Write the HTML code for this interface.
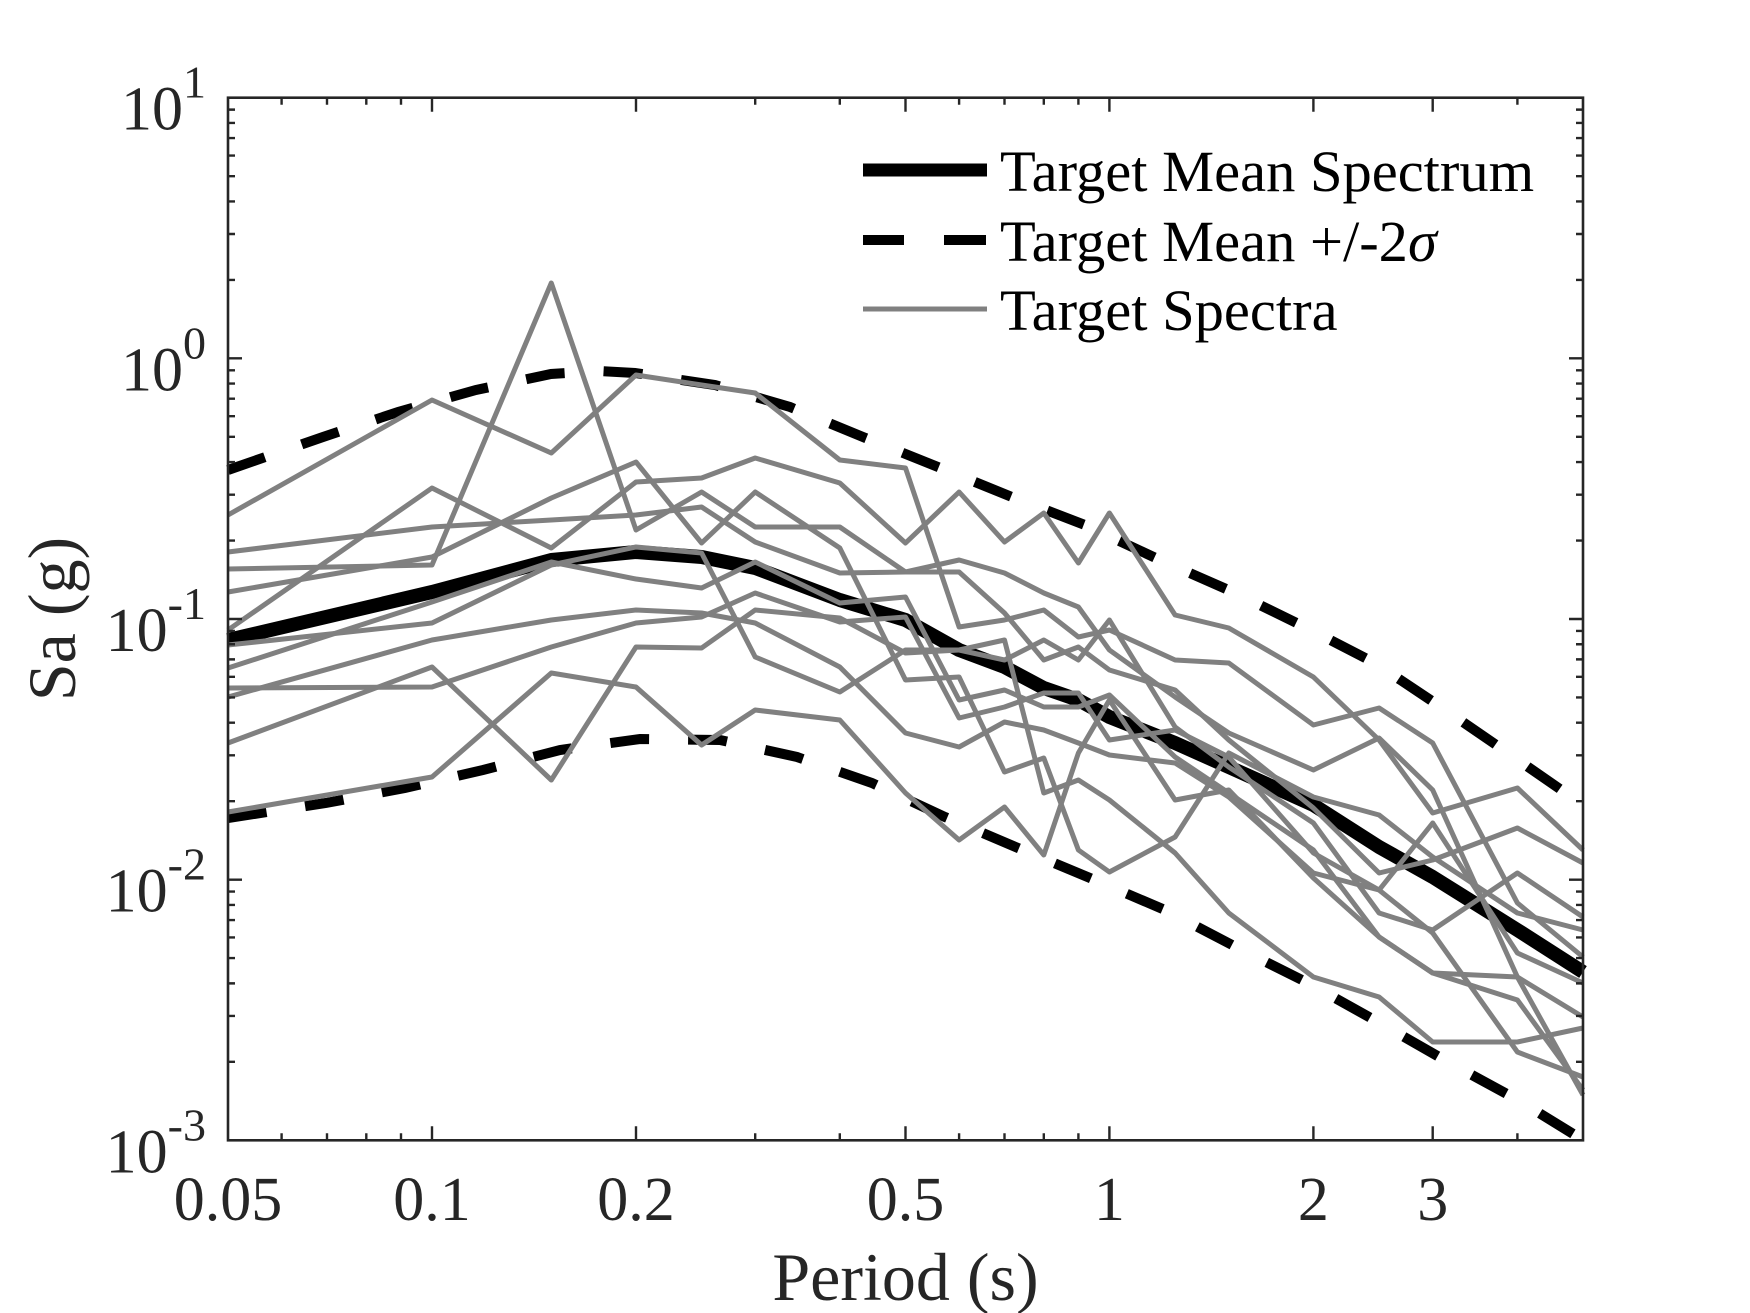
<!DOCTYPE html>
<html><head><meta charset="utf-8"><style>
html,body{margin:0;padding:0;background:#fff;}
svg{display:block;}
text{font-family:"Liberation Serif","Times New Roman",serif;fill:#262626;}
</style></head><body>
<svg width="1750" height="1313" viewBox="0 0 1750 1313" xmlns="http://www.w3.org/2000/svg">
<rect x="0" y="0" width="1750" height="1313" fill="#fff"/>

<!-- mean -->
<polyline fill="none" stroke="#000" stroke-width="14" stroke-linejoin="round" points="228,640 432,592 551.3,560 636,552 701.6,557 755.2,568 839.8,600 905.5,620 959.1,650 1004.5,667 1043.8,688 1078.4,700 1109.4,717 1175.1,743 1228.8,767 1313.4,805 1379.1,847 1432.7,877 1517.4,930 1583,972"/>

<!-- +/- 2 sigma -->
<g fill="none" stroke="#000" stroke-width="10" stroke-dasharray="39 39">
<polyline points="228,470 323,437 398,412 476,390 551,374 600,371 635,373 715,385 790,407 863,437 938,467 1012,497 1085,525 1160,560 1233,592 1305,627 1375,663 1441,707 1508,753 1583,805"/>
<polyline points="228,818 326,803 405,788 483,770 560,750 640,739 720,740 797,757 872,783 945,817 1018,848 1090,878 1165,910 1236,947 1308,983 1378,1022 1448,1062 1518,1100 1583,1140"/>
</g>

<!-- spectra -->
<g fill="none" stroke="#808080" stroke-width="5" stroke-linejoin="round">
<polyline points="228,515 432,400 551.3,453 636,375 701.6,385 755.2,393 839.8,460 905.5,468 959.1,627 1004.5,620 1043.8,610 1078.4,637 1109.4,630 1175.1,660 1228.8,663 1313.4,725 1379.1,708 1432.7,743 1517.4,903 1583,957"/>
<polyline points="228,630 432,488 551.3,548 636,482 701.6,478 755.2,458 839.8,483 905.5,543 959.1,492 1004.5,542 1043.8,513 1078.4,563 1109.4,513 1175.1,615 1228.8,628 1313.4,677 1379.1,740 1432.7,813 1517.4,788 1583,850"/>
<polyline points="228,569 432,565 551.3,283 636,530 701.6,492 755.2,527 839.8,527 905.5,572 959.1,560 1004.5,573 1043.8,593 1078.4,607 1109.4,650 1175.1,697 1228.8,733 1313.4,770 1379.1,738 1432.7,790 1517.4,977 1583,1095"/>
<polyline points="228,592 432,557 551.3,498 636,462 701.6,543 755.2,492 839.8,548 905.5,680 959.1,677 1004.5,772 1043.8,758 1078.4,850 1109.4,872 1175.1,837 1228.8,753 1313.4,797 1379.1,815 1432.7,857 1517.4,913 1583,930"/>
<polyline points="228,552 432,527 551.3,520 636,515 701.6,507 755.2,542 839.8,573 905.5,572 959.1,572 1004.5,613 1043.8,660 1078.4,647 1109.4,670 1175.1,690 1228.8,740 1313.4,808 1379.1,873 1432.7,860 1517.4,828 1583,863"/>
<polyline points="228,645 432,623 551.3,565 636,547 701.6,553 755.2,657 839.8,692 905.5,650 959.1,650 1004.5,660 1043.8,640 1078.4,660 1109.4,620 1175.1,727 1228.8,767 1313.4,823 1379.1,913 1432.7,930 1517.4,873 1583,917"/>
<polyline points="228,668 432,602 551.3,562 636,579 701.6,588 755.2,562 839.8,603 905.5,597 959.1,700 1004.5,690 1043.8,707 1078.4,707 1109.4,695 1175.1,757 1228.8,793 1313.4,850 1379.1,937 1432.7,973 1517.4,977 1583,1017"/>
<polyline points="228,688 432,687 551.3,647 636,623 701.6,617 755.2,593 839.8,622 905.5,617 959.1,718 1004.5,707 1043.8,693 1078.4,693 1109.4,740 1175.1,730 1228.8,757 1313.4,853 1379.1,890 1432.7,823 1517.4,953 1583,983"/>
<polyline points="228,697 432,640 551.3,620 636,610 701.6,613 755.2,623 839.8,667 905.5,733 959.1,747 1004.5,722 1043.8,730 1078.4,743 1109.4,755 1175.1,763 1228.8,797 1313.4,873 1379.1,890 1432.7,933 1517.4,1052 1583,1077"/>
<polyline points="228,743 432,667 551.3,780 636,647 701.6,648 755.2,610 839.8,618 905.5,653 959.1,650 1004.5,640 1043.8,793 1078.4,780 1109.4,800 1175.1,853 1228.8,913 1313.4,977 1379.1,997 1432.7,1042 1517.4,1042 1583,1028"/>
<polyline points="228,812 432,777 551.3,673 636,687 701.6,745 755.2,710 839.8,720 905.5,793 959.1,840 1004.5,807 1043.8,855 1078.4,753 1109.4,700 1175.1,800 1228.8,790 1313.4,878 1379.1,937 1432.7,973 1517.4,1000 1583,1090"/>
</g>

<!-- axes box -->
<rect x="228" y="97.7" width="1355" height="1042.6" fill="none" stroke="#262626" stroke-width="2.6"/>

<!-- ticks -->
<g stroke="#262626" stroke-width="2.4" fill="none">
<path d="M432,1140.3v-14M636,1140.3v-14M905.5,1140.3v-14M1109.4,1140.3v-14M1313.4,1140.3v-14M1432.7,1140.3v-14
M432,97.7v14M636,97.7v14M905.5,97.7v14M1109.4,97.7v14M1313.4,97.7v14M1432.7,97.7v14"/>
<path d="M281.6,1140.3v-7M327,1140.3v-7M366.3,1140.3v-7M401,1140.3v-7M755.2,1140.3v-7M839.8,1140.3v-7M959.1,1140.3v-7M1004.5,1140.3v-7M1043.8,1140.3v-7M1078.4,1140.3v-7M1517.4,1140.3v-7
M281.6,97.7v7M327,97.7v7M366.3,97.7v7M401,97.7v7M755.2,97.7v7M839.8,97.7v7M959.1,97.7v7M1004.5,97.7v7M1043.8,97.7v7M1078.4,97.7v7M1517.4,97.7v7"/>
<path d="M228,358.35h14M228,619h14M228,879.65h14M1583,358.35h-14M1583,619h-14M1583,879.65h-14"/>
<path d="M228,1061.84h7M228,1015.94h7M228,983.37h7M228,958.11h7M228,937.47h7M228,920.02h7M228,904.91h7M228,891.57h7
M228,801.19h7M228,755.29h7M228,722.72h7M228,697.46h7M228,676.82h7M228,659.37h7M228,644.26h7M228,630.92h7
M228,540.54h7M228,494.64h7M228,462.07h7M228,436.81h7M228,416.17h7M228,398.72h7M228,383.61h7M228,370.27h7
M228,279.89h7M228,233.99h7M228,201.42h7M228,176.16h7M228,155.52h7M228,138.07h7M228,122.96h7M228,109.62h7"/>
<path d="M1583,1061.84h-7M1583,1015.94h-7M1583,983.37h-7M1583,958.11h-7M1583,937.47h-7M1583,920.02h-7M1583,904.91h-7M1583,891.57h-7
M1583,801.19h-7M1583,755.29h-7M1583,722.72h-7M1583,697.46h-7M1583,676.82h-7M1583,659.37h-7M1583,644.26h-7M1583,630.92h-7
M1583,540.54h-7M1583,494.64h-7M1583,462.07h-7M1583,436.81h-7M1583,416.17h-7M1583,398.72h-7M1583,383.61h-7M1583,370.27h-7
M1583,279.89h-7M1583,233.99h-7M1583,201.42h-7M1583,176.16h-7M1583,155.52h-7M1583,138.07h-7M1583,122.96h-7M1583,109.62h-7"/>
</g>

<!-- x tick labels -->
<g font-size="62" text-anchor="middle">
<text x="228" y="1220">0.05</text>
<text x="432" y="1220">0.1</text>
<text x="636" y="1220">0.2</text>
<text x="905.5" y="1220">0.5</text>
<text x="1109.4" y="1220">1</text>
<text x="1313.4" y="1220">2</text>
<text x="1432.7" y="1220">3</text>
</g>

<!-- y tick labels -->
<g text-anchor="end">
<text x="206" y="129.7" font-size="62">10<tspan font-size="46" dy="-32">1</tspan></text>
<text x="206" y="390.35" font-size="62">10<tspan font-size="46" dy="-32">0</tspan></text>
<text x="206" y="651" font-size="62">10<tspan font-size="46" dy="-32">-1</tspan></text>
<text x="206" y="911.65" font-size="62">10<tspan font-size="46" dy="-32">-2</tspan></text>
<text x="206" y="1172.3" font-size="62">10<tspan font-size="46" dy="-32">-3</tspan></text>
</g>

<!-- axis labels -->
<text x="905.5" y="1300" font-size="68" text-anchor="middle">Period (s)</text>
<text transform="translate(75,619) rotate(-90)" x="0" y="0" font-size="68" text-anchor="middle">Sa (g)</text>

<!-- legend -->
<line x1="863" y1="170" x2="987" y2="170" stroke="#000" stroke-width="13"/>
<line x1="863" y1="240" x2="904" y2="240" stroke="#000" stroke-width="10"/>
<line x1="944" y1="240" x2="986" y2="240" stroke="#000" stroke-width="10"/>
<line x1="863" y1="309" x2="987" y2="309" stroke="#808080" stroke-width="5"/>
<g font-size="58.5">
<text x="1000" y="191" style="fill:#000">Target Mean Spectrum</text>
<text x="1000" y="261" style="fill:#000">Target Mean +/-2<tspan font-style="italic">σ</tspan></text>
<text x="1000" y="330" style="fill:#000">Target Spectra</text>
</g>
</svg>
</body></html>
